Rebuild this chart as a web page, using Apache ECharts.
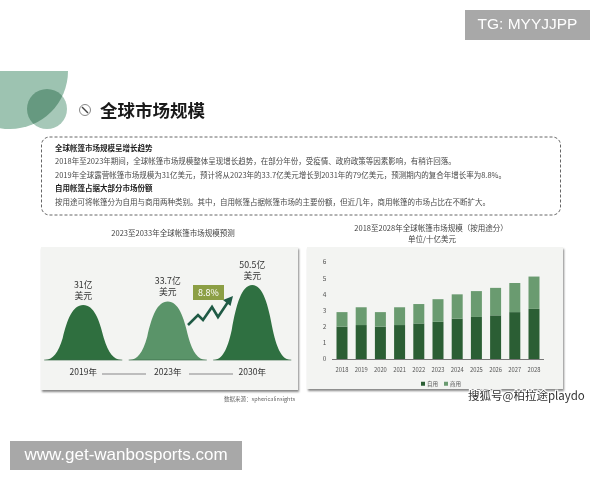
<!DOCTYPE html>
<html><head><meta charset="utf-8">
<style>html,body{margin:0;padding:0;background:#fff}#c{width:600px;height:480px}#c canvas{filter:blur(.4px)}</style>
<script src="https://cdn.jsdelivr.net/npm/echarts@6/dist/echarts.min.js"></script>
</head><body><div id="c"></div>
<script>
const bellYears=['2019年','2023年','2030年'];
const bellValues=[31,33.7,50.5];
const bellLabels=['31亿\n美元','33.7亿\n美元','50.5亿\n美元'];
const bellColors=['#2f6f3f','#5a9469','#2f7041'];
const barYears=['2018','2019','2020','2021','2022','2023','2024','2025','2026','2027','2028'];
const selfUse=[2.0,2.1,2.0,2.1,2.2,2.3,2.5,2.6,2.7,2.9,3.1];
const commercial=[0.9,1.1,0.9,1.1,1.2,1.4,1.5,1.6,1.7,1.8,2.0];
const yTicks=[0,6,1];
const growth='8.8%';
const pageTitle='全球市场规模';
const bodyLines=[
 ['全球帐篷市场规模呈增长趋势',true],
 ['2018年至2023年期间，全球帐篷市场规模整体呈现增长趋势，在部分年份，受疫情、政府政策等因素影响，有稍许回落。',false],
 ['2019年全球露营帐篷市场规模为31亿美元，预计将从2023年的33.7亿美元增长到2031年的79亿美元，预测期内的复合年增长率为8.8%。',false],
 ['自用帐篷占据大部分市场份额',true],
 ['按用途可将帐篷分为自用与商用两种类别。其中，自用帐篷占据帐篷市场的主要份额，但近几年，商用帐篷的市场占比在不断扩大。',false]
];
const FF='"Noto Sans CJK SC","Noto Sans",sans-serif';
const LF='"Liberation Sans",sans-serif';
const BELL='M0 100 C10 99 17 88 23 60 C29 26 36 0 50 0 C64 0 71 26 77 60 C83 88 90 99 100 100 Z';
function txt(x,y,t,size,fill,o){return {type:'text',x:x,y:y,z:8,silent:true,
  style:Object.assign({text:t,font:(o&&o.bold?'bold ':'')+size+'px '+((o&&o.family)||FF),fill:fill,align:(o&&o.align)||'left',verticalAlign:'middle'},(o&&o.style)||{})};}
const graphics=[
 {type:'sector',z:-2,silent:true,shape:{cx:10,cy:71,r:58,startAngle:0,endAngle:Math.PI},style:{fill:'#9dc3b1'}},
 {type:'circle',z:-1,silent:true,shape:{cx:47,cy:109,r:20},style:{fill:'#a6c8b8',blend:'multiply'}},
 {type:'circle',z:5,silent:true,shape:{cx:85,cy:110,r:5.5},style:{fill:'#fff',stroke:'#888',lineWidth:1}},
 {type:'line',z:5,silent:true,shape:{x1:82,y1:107,x2:88,y2:113},style:{stroke:'#444',lineWidth:1.4}},
 txt(100,110,pageTitle,17.5,'#1a1a1a',{bold:true}),
 {type:'rect',z:-1,silent:true,shape:{x:41.5,y:137,width:519,height:78,r:8},style:{fill:'#fff',stroke:'#555',lineWidth:.9,lineDash:[3,2]}},
 {type:'rect',z:-1,silent:true,shape:{x:41,y:247,width:257,height:143},style:{fill:'#f3f4f2',shadowBlur:2,shadowOffsetX:1,shadowOffsetY:1.5,shadowColor:'#888'}},
 {type:'rect',z:-1,silent:true,shape:{x:307,y:247,width:256,height:142},style:{fill:'#f3f4f2',shadowBlur:2,shadowOffsetX:1,shadowOffsetY:1.5,shadowColor:'#888'}},
 txt(173,233,'2023至2033年全球帐篷市场规模预测',7.5,'#444',{align:'center'}),
 txt(431,228,'2018至2028年全球帐篷市场规模（按用途分）',7.5,'#444',{align:'center'}),
 txt(432,239,'单位/十亿美元',7.5,'#444',{align:'center'}),
 txt(295,399,'数据来源：sphericalinsights',5.5,'#666',{align:'right'}),
 {type:'rect',z:3,silent:true,shape:{x:102,y:373,width:44,height:2},style:{fill:'#bdbdbd'}},
 {type:'rect',z:3,silent:true,shape:{x:189,y:373,width:44,height:2},style:{fill:'#bdbdbd'}},
 {type:'polyline',z:6,silent:true,shape:{points:[[188,325],[198,315],[203,320],[212,307],[218,317],[228,302]]},style:{fill:'none',stroke:'#1f5a45',lineWidth:2.6}},
 {type:'polygon',z:6,silent:true,shape:{points:[[233,296],[230.5,306],[223,300]]},style:{fill:'#1f5a45'}},
 {type:'rect',z:6,silent:true,shape:{x:193,y:285,width:31,height:15},style:{fill:'#8c9f45'}},
 txt(208.5,293,growth,9,'#fff',{align:'center'}),
 {type:'rect',z:6,silent:true,shape:{x:465,y:10,width:125,height:30},style:{fill:'#a8a8a8'}},
 txt(527.5,25,'TG: MYYJJPP',15.5,'#fff',{align:'center',family:LF}),
 {type:'rect',z:6,silent:true,shape:{x:10,y:441,width:232,height:29},style:{fill:'#a8a8a8'}},
 txt(126,455.5,'www.get-wanbosports.com',17,'#fff',{align:'center',family:LF}),
 txt(468,396,'搜狐号@柏拉途playdo',11.5,'#333',{style:{stroke:'#fff',lineWidth:2}})
];
[148,161.5,175,188.5,202.5].forEach(function(y,i){
  graphics.push(txt(55,y,bodyLines[i][0],7.5,bodyLines[i][1]?'#1c1c1c':'#4a4a4a',{bold:bodyLines[i][1]}));
});
const chart=echarts.init(document.getElementById('c'),null,{renderer:'canvas'});
chart.setOption({
 animation:false,
 backgroundColor:'#fff',
 graphic:graphics,
 textStyle:{fontFamily:FF},
 legend:{data:['自用','商用'],left:416,top:376,itemWidth:4,itemHeight:4,itemGap:6,icon:'rect',
   textStyle:{fontSize:5.5,color:'#555',padding:[0,0,0,-3]}},
 grid:[
  {left:41,top:260,width:253.5,height:100},
  {left:332.4,top:262,width:211.2,height:97}
 ],
 xAxis:[
  {type:'category',gridIndex:0,data:bellYears,axisTick:{show:false},axisLine:{show:false},
    axisLabel:{margin:8,fontSize:8.5,color:'#333'}},
  {type:'category',gridIndex:1,data:barYears,axisTick:{show:false},axisLine:{lineStyle:{color:'#777',width:1}},
    axisLabel:{margin:8,fontSize:5.8,color:'#555',interval:0}}
 ],
 yAxis:[
  {type:'log',gridIndex:0,min:8.1,max:93,show:false},
  {type:'value',gridIndex:1,min:yTicks[0],max:yTicks[1],interval:yTicks[2],splitLine:{show:false},axisTick:{show:false},axisLine:{show:false},
    axisLabel:{margin:6,fontSize:6.5,color:'#555'}}
 ],
 series:[
  {type:'custom',xAxisIndex:0,yAxisIndex:0,clip:false,
   data:bellValues.map(function(v,i){return [i,v];}),
   encode:{x:0,y:1},
   renderItem:function(params,api){
     const i=api.value(0),v=api.value(1);
     const top=api.coord([i,v]),base=api.coord([i,8.1]);
     const w=api.size([1,0])[0]*0.9;
     return {type:'group',children:[
       {type:'path',shape:{pathData:BELL,layout:'cover',x:top[0]-w/2,y:top[1],width:w,height:base[1]-top[1]},
        style:{fill:bellColors[i]}},
       {type:'line',shape:{x1:top[0]-w/2-1,y1:base[1],x2:top[0]+w/2+1,y2:base[1]},style:{stroke:'#3a6a48',lineWidth:.7}},
       {type:'text',x:top[0],y:top[1]-4,style:{text:bellLabels[i],font:'8.8px '+FF,fill:'#333',align:'center',verticalAlign:'bottom',lineHeight:11}}
     ]};
   }},
  {name:'自用',type:'bar',xAxisIndex:1,yAxisIndex:1,stack:'a',data:selfUse,barWidth:11,itemStyle:{color:'#2b5e34'}},
  {name:'商用',type:'bar',xAxisIndex:1,yAxisIndex:1,stack:'a',data:commercial,barWidth:11,itemStyle:{color:'#6a9b70'}}
 ]
});
</script></body></html>
